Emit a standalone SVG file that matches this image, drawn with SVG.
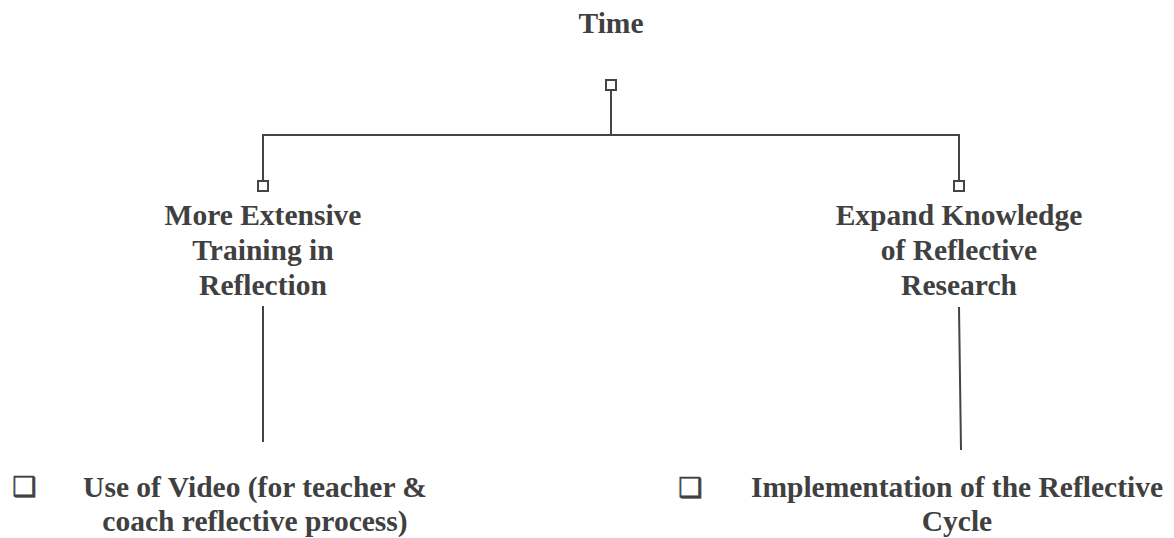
<svg xmlns="http://www.w3.org/2000/svg" width="1174" height="538" viewBox="0 0 1174 538">
<style>
.t{font-family:"Liberation Serif","Times New Roman",serif;font-weight:bold;font-size:29.5px;fill:#404040;text-anchor:middle}
.b{font-family:"DejaVu Sans",sans-serif;font-weight:bold;font-size:27px;fill:#404040;stroke:#404040;stroke-width:0.6}
.ln{stroke:#444;stroke-width:2;fill:none}
.bx{stroke:#444;stroke-width:2;fill:#fff}
</style>
<rect width="1174" height="538" fill="#fff"/>
<g id="connectors">
<line class="ln" x1="611" y1="91" x2="611" y2="135"/>
<polyline class="ln" points="263,181 263,135 959,135 959,181"/>
<line class="ln" x1="263" y1="306" x2="263" y2="442"/>
<line class="ln" x1="959" y1="307" x2="961" y2="450"/>
<rect class="bx" x="606" y="80" width="10" height="10"/>
<rect class="bx" x="258" y="181" width="10" height="10"/>
<rect class="bx" x="954" y="181" width="10" height="10"/>
</g>
<g id="time"><text class="t" x="611" y="33">Time</text></g>
<g id="training"><text class="t" x="263" y="225">More Extensive</text><text class="t" x="263" y="260">Training in</text><text class="t" x="263" y="295">Reflection</text></g>
<g id="knowledge"><text class="t" x="959" y="225">Expand Knowledge</text><text class="t" x="959" y="260">of Reflective</text><text class="t" x="959" y="295">Research</text></g>
<g id="video"><text class="b" x="12" y="496">❑</text><text class="t" x="255" y="497">Use of Video (for teacher &amp;</text><text class="t" x="255" y="531">coach reflective process)</text></g>
<g id="cycle"><text class="b" x="678" y="497">❑</text><text class="t" x="957" y="497">Implementation of the Reflective</text><text class="t" x="957" y="531">Cycle</text></g>
</svg>
